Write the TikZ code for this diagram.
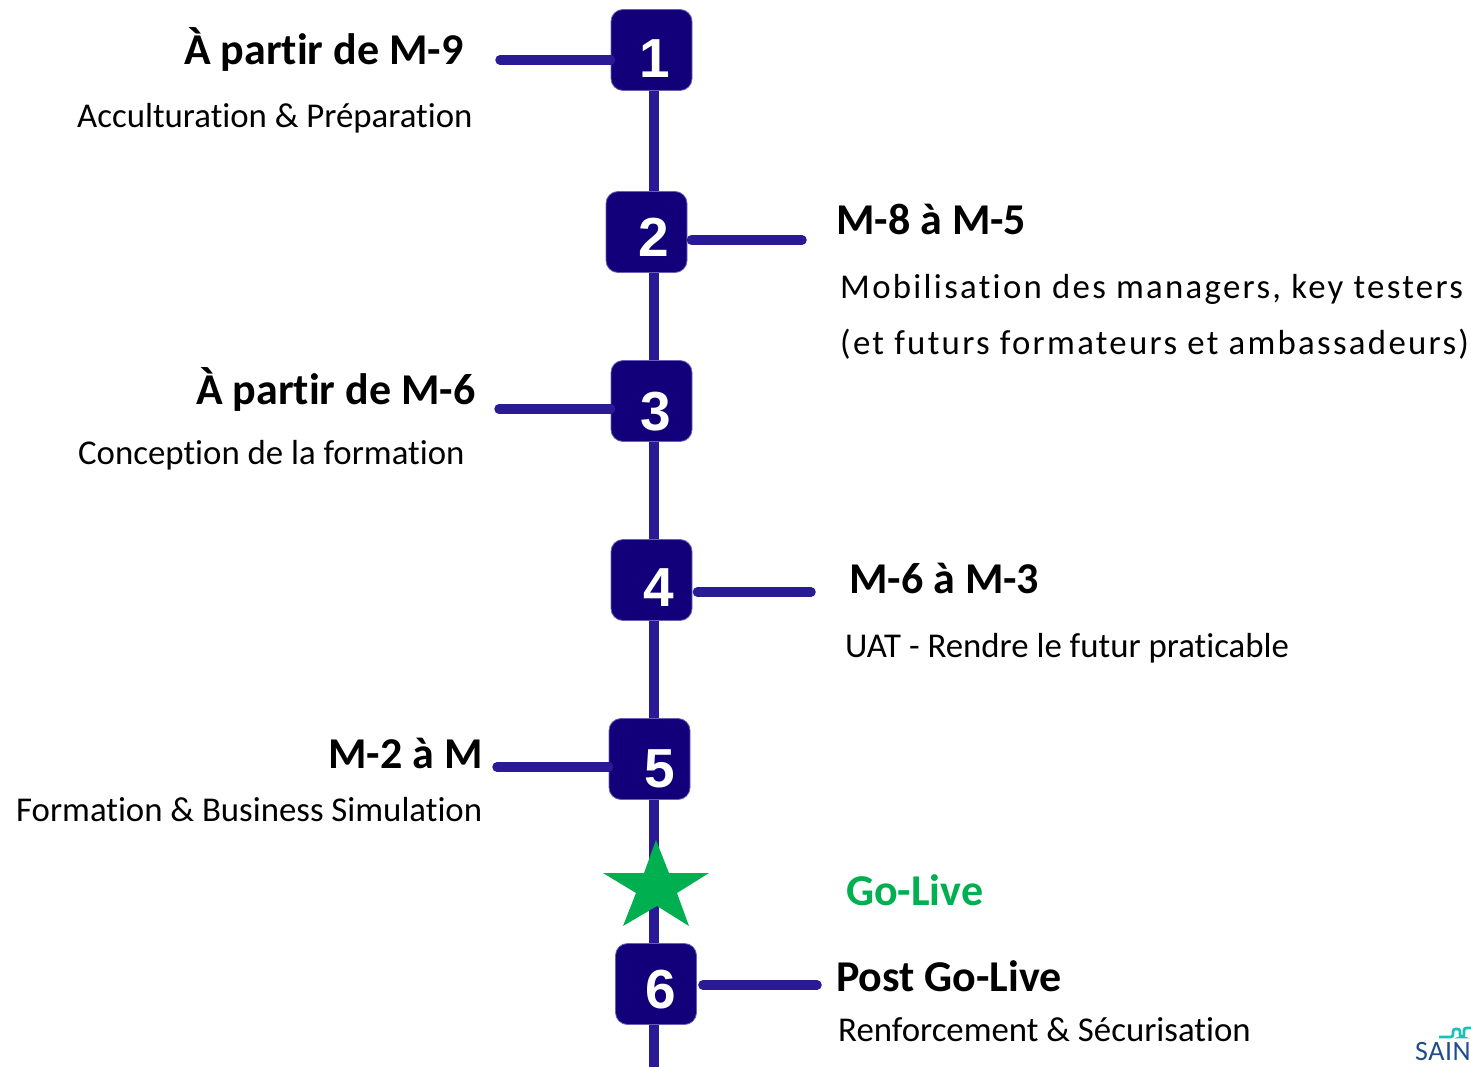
\documentclass[tikz,border=0pt]{standalone}
\usepackage{fontspec}
\setmainfont{Carlito}[Ligatures=CommonOff]
\newfontfamily\numfont{Liberation Sans}
\definecolor{linecol}{HTML}{2A1A96}
\definecolor{boxcol}{HTML}{110079}
\definecolor{golive}{HTML}{00B050}
\definecolor{sainblue}{HTML}{1F4E8A}
\definecolor{sainteal}{HTML}{1CC0B8}
\tikzset{
  numbox/.style={draw=linecol!70!white,line width=0.8pt,fill=boxcol,rounded corners=12pt,minimum size=81pt,inner sep=0pt},
  numtext/.style={text=white,font=\numfont\fontsize{55}{55}\selectfont\bfseries,anchor=base,inner sep=0pt},
  spine/.style={linecol,line width=9.5pt},
  tick/.style={linecol,line width=9.5pt,line cap=round},
  head/.style={font=\fontsize{44}{44}\selectfont\bfseries,anchor=base west,inner sep=0pt},
  body/.style={font=\fontsize{34.8}{35}\selectfont,anchor=base west,inner sep=0pt},
  wide/.style={font=\fontsize{34.8}{35}\selectfont\addfontfeature{LetterSpace=6.6},anchor=base west,inner sep=0pt},
}
\begin{document}
\begin{tikzpicture}[x=1pt,y=-1pt]
\useasboundingbox (0,0) rectangle (1471,1067);
\coordinate (spinebot) at (654,1067);
\foreach \n/\x/\y in {1/651.5/50,2/646.5/232,3/651.5/401,4/651.5/580,5/649.5/759,6/656/984} {
\node[numbox] (s\n) at (\x,\y) {};
}
\foreach \a/\b in {s1/s2,s2/s3,s3/s4,s4/s5,s5/s6} {
\draw[spine] (\a.south -| spinebot) -- (\b.north -| spinebot);
}
\draw[spine] (s6.south -| spinebot) -- (spinebot);
\foreach \n/\x/\y in {1/655/78,2/653.5/257,3/655.5/430,4/658.5/606,5/659.5/787,6/660.5/1008} {
\node[numtext] (t\n) at (\x,\y) {\n};
}
% ticks
\coordinate (e1) at (500,60);
\coordinate (e2) at (802,240);
\coordinate (e3) at (499,409);
\coordinate (e4) at (811,592);
\coordinate (e5) at (497,767);
\coordinate (e6) at (817,985);
\draw[tick] (e1) -- (s1.west |- e1);
\draw[tick] (e2) -- ([xshift=4pt]s2.east |- e2);
\draw[tick] (e3) -- (s3.west |- e3);
\draw[tick] (e4) -- ([xshift=5pt]s4.east |- e4);
\draw[tick] (e5) -- (s5.west |- e5);
\draw[tick] (e6) -- ([xshift=6pt]s6.east |- e6);
% star
\fill[golive] (656,840) -- (669,873) -- (709,873) -- (677,893) -- (689,926) -- (657,906) -- (623,926) -- (636,893) -- (603,873) -- (644,873) -- cycle;
% labels
\node[head] (h1) at (184,64.5) {À partir de M-9};
\node[body] (b1) at (77,127.5) {Acculturation \& Préparation};
\node[head] (h2) at (836,234.5) {M-8 à M-5};
\node[wide] (b2) at (840,298.5) {Mobilisation des managers, key testers};
\node[wide] (b2b) at (840,354.5) {(et futurs formateurs et ambassadeurs)};
\node[head] (h3) at (196,404.5) {À partir de M-6};
\node[body] (b3) at (78,464.5) {Conception de la formation};
\node[head] (h4) at (849,593.5) {M-6 à M-3};
\node[body] (b4) at (845,657.5) {UAT - Rendre le futur praticable};
\node[head] (h5) at (328,768.5) {M-2 à M};
\node[body] (b5) at (16,821.5) {Formation \& Business Simulation};
\node[head,text=golive] (golabel) at (846,905.5) {Go-Live};
\node[head] (h6) at (836,991.5) {Post Go-Live};
\node[body] (b6) at (838,1041.5) {Renforcement \& Sécurisation};
% logo
\draw[sainteal,line width=2.8pt,rounded corners=2.5pt] (1439,1037) -- (1453,1037) -- (1453,1029) -- (1460,1029) -- (1460,1037) -- (1464,1037) -- (1464,1028) -- (1471,1028);
\node[font=\fontsize{28}{28}\selectfont\addfontfeature{LetterSpace=2},text=sainblue,anchor=base east,inner sep=0pt] (logo) at (1471,1060) {SAIN};
\end{tikzpicture}
\end{document}
